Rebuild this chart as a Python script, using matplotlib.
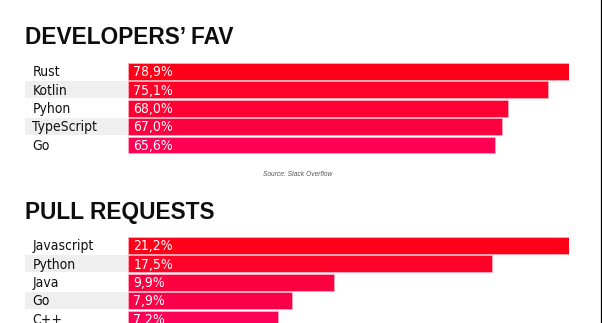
"""
Two ranked horizontal bar panels: favourite languages and pull requests share.
"""

import numpy as np
from matplotlib import pyplot as plt
from matplotlib.lines import Line2D

fav_langs  = ['Rust', 'Kotlin', 'Pyhon', 'TypeScript', 'Go']
fav_values = [78.9, 75.1, 68.0, 67.0, 65.6]

pr_langs  = ['Javascript', 'Python', 'Java', 'Go', 'C++']
pr_values = [21.2, 17.5, 9.9, 7.9, 7.2]

source = 'Source: Stack Overflow'

W, H = 602, 323
ROW = 18.375          # px per row
LEFT, ZERO, RIGHT = 25, 128, 569
LABEL = dict(fontsize=10, family='DejaVu Sans', fontstretch='condensed',
             va='center', ha='left')


def fmt(v):
  """
  Italian style number: comma as decimal separator
  """
  return '{:.1f}%'.format(v).replace('.', ',')


def panel(fig, langs, values, top, colors):
  """
  Draw one panel of bars; top = pixel y of the first row's upper edge
  """
  n = len(langs)
  ax = fig.add_axes([LEFT / W, 1 - (top + n * ROW) / H,
                     (RIGHT - LEFT) / W, n * ROW / H])
  vmax = max(values)
  px = vmax / (RIGHT - ZERO)      # data units per pixel
  off = (ZERO - LEFT) * px
  ax.set_xlim(-off, vmax)
  ax.set_ylim(n - 0.5, -0.5)
  ax.axis('off')

  y = np.arange(n)
  # grey band behind every other label
  band = [off if i % 2 else 0 for i in range(n)]
  ax.barh(y, band, left=-off, height=0.92, color='#efefef', lw=0)
  ax.barh(y, values, height=0.92, color=colors, edgecolor='#ffc0cc', lw=0.4)

  for i, (name, v) in enumerate(zip(langs, values)):
    ax.text(-off + 7.5 * px, i + 0.04, name, color='#111111', **LABEL)
    ax.text(5.5 * px, i + 0.04, fmt(v), color='white', **LABEL)
  return ax


fig = plt.figure(figsize=(W / 100, H / 100), dpi=100)
fig.patch.set_facecolor('white')

fig.text(LEFT / W, 1 - 44 / H, 'DEVELOPERS\u2019 FAV', fontsize=16.3,
         fontweight='bold', family='Liberation Sans', va='baseline', color='#0d0d0d')
panel(fig, fav_langs, fav_values, 62.3,
      ['#ff0019', '#ff0229', '#ff0035', '#fc003f', '#ff0055'])

fig.text(298 / W, 1 - 174 / H, source, fontsize=4.8, style='italic',
         family='Liberation Sans', color='#555555', ha='center', va='center')

fig.text(LEFT / W, 1 - 219 / H, 'PULL REQUESTS', fontsize=16.3,
         fontweight='bold', family='Liberation Sans', va='baseline', color='#0d0d0d')
panel(fig, pr_langs, pr_values, 236.3,
      ['#ff0019', '#ff0228', '#fc0040', '#fa004a', '#ff0058'])

# thin frame edge on the right
fig.add_artist(Line2D([600.5 / W, 600.5 / W], [0, 1], color='black', lw=0.9))

fig.savefig('out.png', dpi=100)
